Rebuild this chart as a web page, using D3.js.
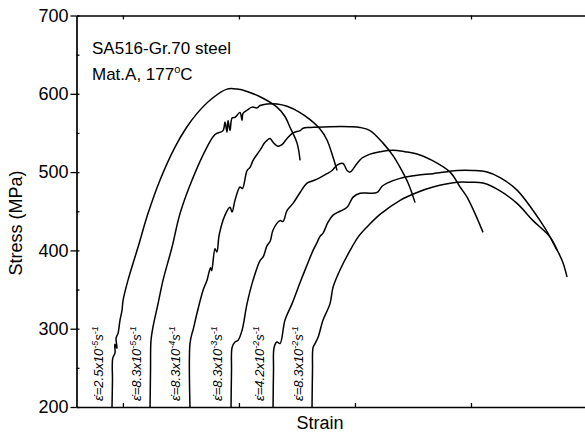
<!DOCTYPE html>
<html>
<head>
<meta charset="utf-8">
<script src="https://cdn.jsdelivr.net/npm/d3@7"></script>
<style>
  body { margin: 0; background: #fff; }
  svg { display: block; }
  text { font-family: "Liberation Sans", Arial, Helvetica, sans-serif; fill: #000; }
</style>
</head>
<body>
<svg id="chart" width="585" height="438"></svg>
<script>
// Axis ticks
const stressTicks = [200, 300, 400, 500, 600, 700];
const stressMinorTicks = [250, 350, 450, 550, 650];
const strainTicks = [4, 14, 24, 34, 44];

// Annotation
const titleLine1 = "SA516-Gr.70 steel";
const titleLine2 = "Mat.A, 177";
const strainRateMantissa = ["2.5", "8.3", "8.3", "8.3", "4.2", "8.3"];
const strainRateExponent = ["-5", "-5", "-4", "-3", "-2", "-2"];

// Stress-strain curves [strain (shifted), stress MPa], one per strain rate
const curveRate2p5e5 = [
  [3.06,200],[3.10,234],[3.12,262],[3.32,269],[3.30,280],[3.49,275],[3.41,288],[3.58,294],
  [3.75,311],[3.92,323],[4.01,336],[4.44,362],[5.30,404],[6.16,447],[7.20,490],[8.49,532],
  [9.44,556],[10.39,575],[11.68,594],[12.97,606],[13.84,606],[14.70,603],[15.99,595],
  [17.28,583],[17.97,571],[18.41,557],[19.01,537],[19.27,515]
];
const curveRate8p3e5 = [
  [6.34,200],[6.38,247],[6.42,285],[6.59,302],[7.03,332],[7.46,362],[8.23,404],[8.92,447],
  [9.96,490],[11.25,532],[11.94,548],[12.63,553],[12.80,564],[12.97,551],[13.06,566],
  [13.23,553],[13.41,569],[13.66,570],[14.09,576],[14.27,566],[14.35,575],[14.70,579],
  [15.13,583],[15.56,582],[15.82,585],[16.42,587],[17.28,587],[18.15,584],[19.27,576],
  [20.13,567],[20.99,555],[21.59,541],[22.11,519],[22.46,502]
];
const curveRate8p3e4 = [
  [9.78,200],[9.78,281],[9.96,294],[10.04,298],[10.39,320],[10.91,349],[11.25,362],
  [11.55,378],[11.65,374],[11.94,402],[12.10,398],[12.30,420],[12.80,445],[13.23,455],
  [13.41,449],[13.66,464],[14.09,481],[14.30,479],[14.70,502],[14.96,506],[15.22,515],
  [15.82,528],[16.25,538],[16.68,543],[16.94,538],[17.37,533],[17.71,535],[18.15,543],
  [18.66,550],[19.27,553],[19.53,556],[20.13,557],[21.85,558],[23.58,558],[24.44,557],
  [25.30,553],[26.42,537],[27.28,521],[27.89,506],[28.58,486],[29.18,461]
];
const curveRate8p3e3 = [
  [13.32,200],[13.36,247],[13.41,276],[13.66,283],[13.92,285],[14.27,298],[14.70,332],
  [15.22,362],[15.82,387],[16.10,392],[16.42,406],[16.70,412],[16.94,426],[17.54,438],
  [17.80,437],[18.15,451],[18.66,460],[19.27,474],[19.87,486],[20.39,489],[20.99,493],
  [21.59,498],[22.03,502],[22.46,509],[22.97,511],[23.32,502],[23.58,500],[24.18,511],
  [24.61,518],[25.30,523],[26.16,526],[27.28,528],[28.32,526],[29.35,523],[30.65,515],
  [32.20,500],[33.06,481],[33.66,468],[34.35,447],[35.04,423]
];
const curveRate4p2e2 = [
  [16.94,200],[16.98,247],[17.03,276],[17.28,283],[17.54,281],[17.97,311],[18.58,332],
  [19.27,359],[19.78,378],[20.39,400],[20.73,410],[20.99,418],[21.25,422],[21.68,436],
  [22.11,445],[22.71,450],[23.32,455],[23.84,468],[24.44,473],[25.30,473],[25.91,474],
  [26.34,482],[26.77,486],[27.89,492],[29.35,496],[30.73,498],[32.80,502],[34.18,502],
  [35.39,500],[36.51,493],[37.97,477],[39.35,451],[40.39,428],[41.42,400]
];
const curveRate8p3e2 = [
  [20.30,200],[20.34,247],[20.39,276],[20.56,281],[20.82,289],[21.25,311],[21.85,332],
  [22.11,353],[22.71,375],[23.58,400],[24.27,417],[25.04,430],[26.16,446],[27.89,464],
  [29.35,474],[30.73,481],[32.80,487],[33.92,487],[35.04,486],[36.51,476],[37.97,460],
  [39.35,438],[40.82,417],[41.51,398],[41.94,384],[42.28,366]
];
const curves = [curveRate2p5e5, curveRate8p3e5, curveRate8p3e4, curveRate8p3e3, curveRate4p2e2, curveRate8p3e2];

const svg = d3.select("#chart");
const x = d3.scaleLinear().domain([0, 44]).range([76.5, 587]);
const y = d3.scaleLinear().domain([200, 700]).range([407, 15.5]);

// Curves
const line = d3.line()
  .x(d => x(d[0]))
  .y(d => y(d[1]))
  .curve(d3.curveCatmullRom.alpha(0.5));

svg.append("g").selectAll("path")
  .data(curves)
  .join("path")
  .attr("d", line)
  .attr("fill", "none")
  .attr("stroke", "#000")
  .attr("stroke-width", 1.5)
  .attr("stroke-linejoin", "round");

// Axes
const axisStroke = g => {
  g.selectAll(".domain").attr("stroke", "#000").attr("stroke-width", 1.7);
  g.selectAll(".tick line").attr("stroke", "#000").attr("stroke-width", 1.3);
};

svg.append("g")
  .attr("transform", `translate(${x.range()[0]},0)`)
  .call(d3.axisLeft(y).tickValues(stressTicks).tickSize(6).tickSizeOuter(0).tickPadding(2))
  .call(axisStroke)
  .call(g => g.selectAll(".tick text").attr("font-size", 18).attr("font-family", "Liberation Sans, Arial, sans-serif"));

svg.append("g")
  .attr("transform", `translate(${x.range()[0]},0)`)
  .call(d3.axisRight(y).tickValues(stressTicks.concat(stressMinorTicks)).tickSize(3).tickFormat(""))
  .call(g => g.select(".domain").remove())
  .call(axisStroke);

svg.append("g")
  .attr("transform", `translate(0,${y.range()[0]})`)
  .call(d3.axisBottom(x).tickValues(strainTicks).tickSize(-4).tickSizeOuter(0).tickFormat(""))
  .call(axisStroke);

svg.append("g")
  .attr("transform", `translate(0,${y.range()[1]})`)
  .call(d3.axisTop(x).tickValues(strainTicks).tickSize(-4).tickSizeOuter(0).tickFormat(""))
  .call(axisStroke);

// Axis titles
svg.append("text")
  .attr("transform", "translate(22,223) rotate(-90)")
  .attr("text-anchor", "middle")
  .attr("font-size", 18)
  .text("Stress (MPa)");

svg.append("text")
  .attr("x", 320).attr("y", 429)
  .attr("text-anchor", "middle")
  .attr("font-size", 18)
  .text("Strain");

// Material note
svg.append("text").attr("x", 92).attr("y", 54).attr("font-size", 17).text(titleLine1);
const t2 = svg.append("text").attr("x", 92).attr("y", 80).attr("font-size", 17);
t2.append("tspan").text(titleLine2);
t2.append("tspan").attr("font-size", 11).attr("dy", -7).text("o");
t2.append("tspan").attr("dy", 7).text("C");

// Strain-rate labels beside each curve's elastic rise
curves.forEach((c, i) => {
  const t = svg.append("text")
    .attr("transform", `translate(${x(c[0][0]) - 9.5},401) rotate(-90)`)
    .attr("font-size", 13)
    .attr("font-style", "italic");
  t.append("tspan").text("\u03B5\u0307=" + strainRateMantissa[i] + "x10");
  t.append("tspan").attr("font-size", 9).attr("dy", -5).text(strainRateExponent[i]);
  t.append("tspan").attr("dy", 5).text("s");
  t.append("tspan").attr("font-size", 9).attr("dy", -5).text("-1");
});
</script>
</body>
</html>
